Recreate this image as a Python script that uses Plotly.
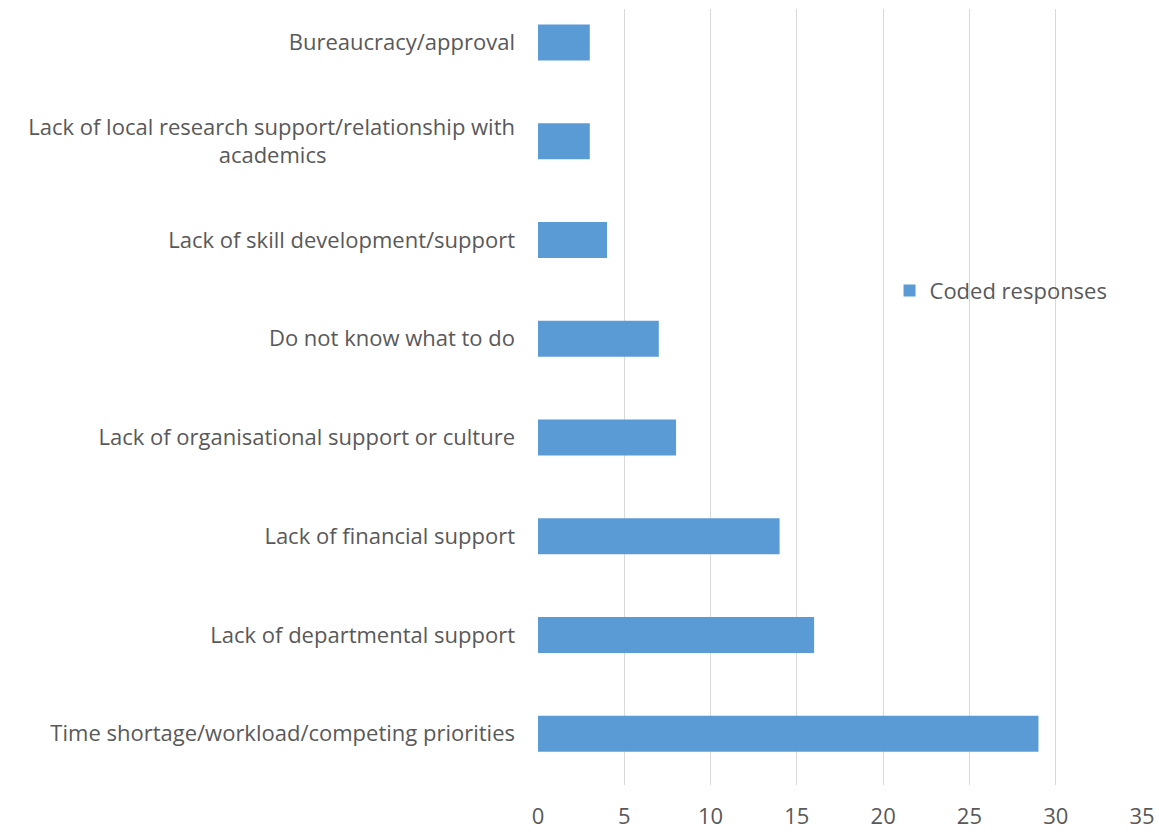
import plotly.graph_objects as go

categories = [
    "Time shortage/workload/competing priorities",
    "Lack of departmental support",
    "Lack of financial support",
    "Lack of organisational support or culture",
    "Do not know what to do",
    "Lack of skill development/support",
    "Lack of local research support/relationship with<br>academics" + "&nbsp;" * 33,
    "Bureaucracy/approval",
]
values = [29, 16, 14, 8, 7, 4, 3, 3]
series_name = "Coded responses"
x_ticks = [0, 5, 10, 15, 20, 25, 30, 35]

font_family = "Open Sans"
font_size = 22
gray = "#595959"

fig = go.Figure()
fig.add_trace(go.Bar(
    y=categories,
    x=values,
    orientation="h",
    name=series_name,
    width=0.365,
    marker=dict(color="#5B9BD5", line=dict(width=0)),
    showlegend=True,
))

fig.update_layout(
    width=1159,
    height=832,
    margin=dict(l=538, r=17, t=9, b=47),
    paper_bgcolor="white",
    plot_bgcolor="white",
    font=dict(family=font_family, size=font_size, color=gray),
    showlegend=True,
    legend=dict(
        x=0.582, y=0.637, xanchor="left", yanchor="middle",
        font=dict(family=font_family, size=font_size, color=gray),
        bgcolor="rgba(0,0,0,0)",
    ),
    xaxis=dict(
        range=[0, 35],
        tickvals=x_ticks,
        showgrid=True,
        gridcolor="#D9D9D9",
        gridwidth=1,
        zeroline=False,
        showline=False,
        ticks="",
        automargin=False,
        ticklabelstandoff=16,
        tickfont=dict(family=font_family, size=font_size, color=gray),
    ),
    yaxis=dict(
        type="category",
        categoryorder="array",
        categoryarray=categories,
        range=[-0.52, 7.34],
        showgrid=False,
        zeroline=False,
        showline=False,
        ticks="",
        automargin=False,
        ticklabelstandoff=22,
        tickfont=dict(family=font_family, size=font_size, color=gray),
    ),
)

fig.write_html("out.html")
